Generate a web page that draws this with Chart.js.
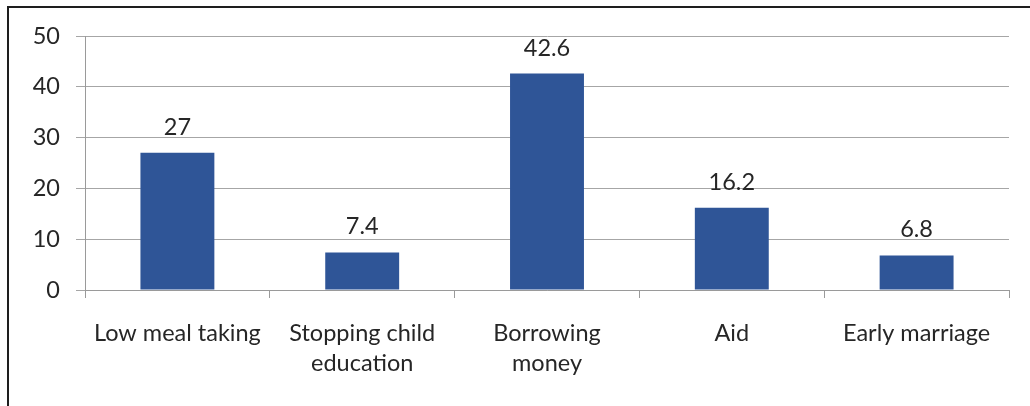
<!DOCTYPE html>
<html>
<head>
<meta charset="utf-8">
<script src="https://cdn.jsdelivr.net/npm/chart.js@4"></script>
<style>
  html, body { margin: 0; padding: 0; background: #fff; overflow: hidden; }
  #frame { position: absolute; left: 7px; top: 6px; width: 1040px; height: 420px;
           border-left: 2px solid #1e1e1e; border-top: 2px solid #1e1e1e; }
  #wrap { position: absolute; left: 0; top: 0; width: 1030px; height: 406px; }
</style>
</head>
<body>
<div id="frame"></div>
<div id="wrap"><canvas id="c" width="1030" height="406"></canvas></div>
<script>
const categories = [["Low meal taking"], ["Stopping child", "education"], ["Borrowing", "money"], ["Aid"], ["Early marriage"]];
const values = [27, 7.4, 42.6, 16.2, 6.8];
const valueLabels = ["27", "7.4", "42.6", "16.2", "6.8"];
const yTicks = [0, 10, 20, 30, 40, 50];

const FONT = "Lato, 'Open Sans', sans-serif";
const TEXT = "#262626";
const FS = 23.5;

const valueLabelPlugin = {
  id: 'valueLabels',
  afterDatasetsDraw(chart) {
    const ctx = chart.ctx;
    const meta = chart.getDatasetMeta(0);
    ctx.save();
    ctx.font = FS + "px " + FONT;
    ctx.fillStyle = TEXT;
    ctx.textAlign = 'center';
    ctx.textBaseline = 'alphabetic';
    meta.data.forEach((bar, i) => {
      ctx.fillText(valueLabels[i], bar.x, bar.y - 18);
    });
    ctx.restore();
  }
};

new Chart(document.getElementById('c'), {
  type: 'bar',
  data: {
    labels: categories,
    datasets: [{
      data: values,
      backgroundColor: '#2f5597',
      borderWidth: 0,
      categoryPercentage: 0.4,
      barPercentage: 1.0
    }]
  },
  options: {
    responsive: false,
    animation: false,
    devicePixelRatio: 1,
    layout: { padding: { left: 0, top: 36, right: 21, bottom: 0 } },
    plugins: { legend: { display: false }, tooltip: { enabled: false } },
    scales: {
      y: {
        min: 0, max: 50,
        afterBuildTicks(scale) { scale.ticks = yTicks.map(v => ({ value: v })); },
        afterFit(scale) { scale.width = 85; },
        border: { color: '#9a9a9a', width: 1 },
        grid: { color: '#a6a6a6', lineWidth: 1, tickLength: 9, drawTicks: true },
        ticks: { font: { family: FONT, size: FS }, color: TEXT, padding: 16 }
      },
      x: {
        afterFit(scale) { scale.height = 116; },
        border: { color: '#9a9a9a', width: 1 },
        grid: { drawOnChartArea: false, drawTicks: true, tickLength: 8, color: '#9a9a9a', offset: true },
        ticks: { font: { family: FONT, size: FS, lineHeight: 1.3 }, color: TEXT, padding: 20, maxRotation: 0, autoSkip: false }
      }
    }
  },
  plugins: [valueLabelPlugin]
});
</script>
</body>
</html>
